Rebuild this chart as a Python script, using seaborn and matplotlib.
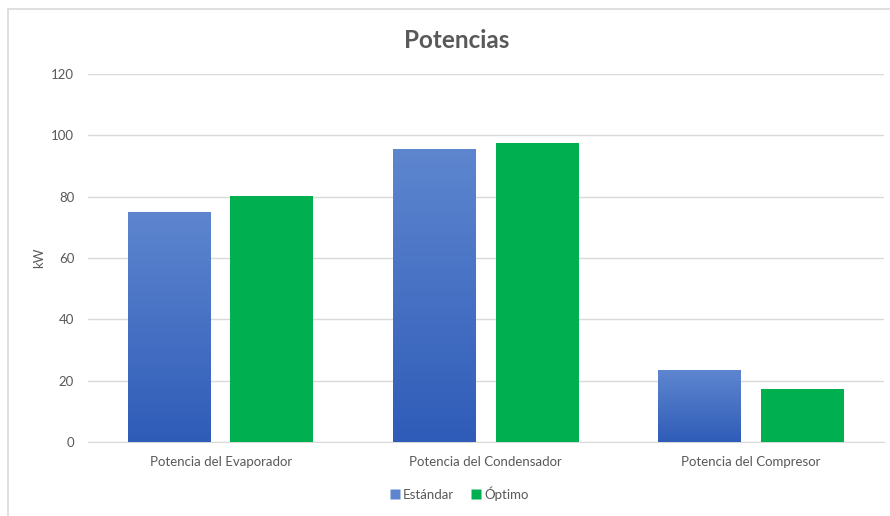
import seaborn as sns
import matplotlib.pyplot as plt
import pandas as pd
import numpy as np
from matplotlib.colors import LinearSegmentedColormap
from matplotlib.lines import Line2D
from matplotlib.patches import Rectangle

# Data
categories = ['Potencia del Evaporador', 'Potencia del Condensador', 'Potencia del Compresor']
estandar = [75.0, 95.5, 23.4]
optimo = [80.3, 97.6, 17.3]
series = ['Estándar', 'Óptimo']
yticks = [0, 20, 40, 60, 80, 100, 120]

df = pd.DataFrame({
    'categoria': categories * 2,
    'serie': [series[0]] * 3 + [series[1]] * 3,
    'kW': estandar + optimo,
})

sns.set_style("white")
plt.rcParams['font.family'] = ['Lato', 'DejaVu Sans']

text_color = '#595959'
blue_top, blue_bottom = '#5E86CF', '#2F5CB8'
green = '#00B050'

fig = plt.figure(figsize=(8.9, 5.16), dpi=100)
ax = fig.add_axes([0.0989, 0.1434, 0.894, 0.7132])

sns.barplot(data=df, x='categoria', y='kW', hue='serie',
            palette={series[0]: blue_bottom, series[1]: green},
            saturation=1, width=0.772, gap=0.19, ax=ax, legend=False,
            zorder=3, edgecolor='none')

# gradient fill for the blue bars
grad = LinearSegmentedColormap.from_list('g', [blue_bottom, blue_top])
gradient = np.linspace(0, 1, 256).reshape(-1, 1)
for bar in ax.patches[:3]:
    x0, y0 = bar.get_x(), bar.get_y()
    w, h = bar.get_width(), bar.get_height()
    im = ax.imshow(gradient, cmap=grad, aspect='auto', origin='lower',
                   extent=[x0, x0 + w, y0, y0 + h], zorder=3)
    im.set_clip_path(bar)
    bar.set_alpha(0)

ax.set_xlim(-0.5, 2.5)
ax.set_ylim(0, 120)
ax.set_yticks(yticks)
ax.yaxis.grid(True, color='#D9D9D9', linewidth=1, zorder=0)
ax.set_axisbelow(True)
for s in ['top', 'right', 'left']:
    ax.spines[s].set_visible(False)
ax.spines['bottom'].set_color('#D9D9D9')
ax.tick_params(axis='both', length=0, colors=text_color, labelsize=9.5, pad=10)
ax.set_xlabel('')
ax.set_ylabel('kW', color=text_color, fontsize=9.5, labelpad=4)

fig.text(0.513, 0.922, 'Potencias', ha='center', va='center',
         fontsize=17.5, fontweight='bold', color=text_color)

handles = [Line2D([0], [0], marker='s', linestyle='none', markersize=7,
                  markerfacecolor=c, markeredgecolor='none')
           for c in [blue_top, green]]
fig.legend(handles, series, loc='center', bbox_to_anchor=(0.515, 0.043),
           ncol=2, frameon=False, fontsize=9.5, labelcolor=text_color,
           handletextpad=0.1, columnspacing=1.2, handlelength=1)

# light frame around the chart area (cut off at right and bottom)
fig.patches.append(Rectangle((0.0095, -0.1), 1.1, 1.0826, transform=fig.transFigure,
                             fill=False, edgecolor='#D9D9D9', linewidth=1.2))

fig.savefig('out.png', dpi=100)
